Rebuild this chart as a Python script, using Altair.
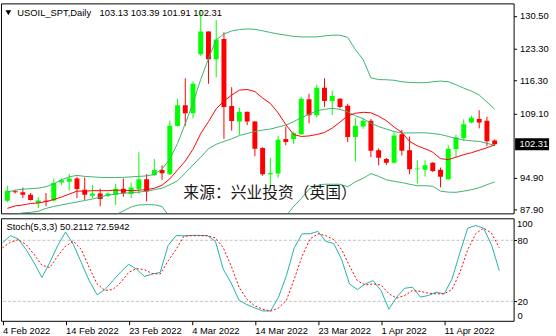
import altair as alt
import pandas as pd

# ---------------- data ----------------
idx = list(range(64))

opens = [89.9, 92.0, 91.75, 91.2, 89.4, 89.9, 89.95, 93.9, 94.1, 94.8,
         92.35, 91.0, 91.5, 91.0, 91.2, 92.55, 91.4, 92.5, 94.65, 95.5,
         96.65, 95.75, 106.35, 110.9, 109.1, 122.1, 127.1, 121.0, 125.45, 110.7,
         107.3, 109.45, 107.3, 101.5, 95.75, 95.9, 103.45, 103.45, 104.5, 112.2,
         108.7, 114.7, 111.8, 112.3, 110.75, 103.9, 106.2, 107.5, 101.0, 99.1,
         98.25, 104.5, 101.0, 96.85, 96.7, 98.25, 96.7, 94.65, 101.3, 103.7,
         107.1, 107.85, 107.5, 103.13]
highs = [93.2, 92.3, 92.8, 91.6, 90.7, 91.6, 94.8, 94.8, 95.8, 95.2,
         95.0, 93.4, 92.55, 91.75, 93.6, 94.8, 93.9, 100.55, 95.75, 99.1,
         97.7, 107.5, 112.3, 116.8, 116.1, 131.8, 127.1, 129.6, 126.9, 114.85,
         110.3, 109.45, 107.4, 101.65, 99.3, 104.2, 106.2, 105.1, 112.7, 113.4,
         115.4, 116.8, 114.1, 112.4, 111.2, 108.0, 108.0, 107.85, 101.4, 99.3,
         105.1, 105.5, 104.0, 98.8, 98.8, 98.4, 97.2, 102.1, 104.4, 107.8,
         108.6, 109.8, 108.35, 103.39]
lows = [89.6, 91.5, 90.5, 89.95, 88.3, 88.7, 89.7, 93.4, 92.1, 90.5,
        90.1, 90.5, 88.7, 90.7, 89.0, 90.8, 90.5, 91.4, 89.8, 95.4,
        94.5, 95.6, 106.2, 106.35, 108.0, 121.7, 115.6, 117.0, 103.5, 105.3,
        104.4, 106.55, 99.7, 95.4, 92.85, 95.0, 102.1, 102.4, 104.4, 106.9,
        108.2, 110.5, 108.7, 110.2, 102.8, 98.5, 105.7, 99.5, 97.7, 97.75,
        98.1, 99.85, 95.75, 93.7, 95.2, 96.2, 92.85, 94.5, 99.5, 103.0,
        106.9, 105.8, 101.9, 101.91]
closes = [92.1, 91.8, 91.2, 90.1, 89.95, 89.7, 93.8, 94.4, 94.8, 92.5,
          91.2, 91.5, 90.3, 91.5, 92.55, 91.55, 92.8, 94.65, 91.95, 96.65,
          95.95, 106.4, 110.9, 109.1, 115.6, 127.1, 121.0, 125.3, 110.5, 107.4,
          109.45, 107.3, 101.35, 95.75, 96.0, 103.3, 102.8, 104.75, 112.3, 108.7,
          114.7, 111.8, 112.9, 110.5, 103.9, 106.4, 107.5, 100.9, 99.35, 98.25,
          104.25, 100.9, 96.8, 97.0, 97.7, 96.45, 95.2, 101.35, 103.8, 106.7,
          108.15, 107.1, 102.95, 102.31]

bb_upper = [91.80, 92.23, 92.45, 92.56, 92.67, 92.99, 93.64, 94.51, 95.15, 95.48,
            95.26, 95.15, 95.05, 95.00, 95.00, 95.05, 95.15, 95.26, 95.37, 95.70,
            96.89, 99.05, 102.51, 106.84, 111.39, 116.58, 121.13, 125.24, 126.54, 127.19,
            127.51, 127.62, 127.56, 127.23, 126.86, 126.54, 126.28, 126.00, 125.89, 125.89,
            125.89, 126.11, 126.26, 126.26, 125.78, 123.08, 120.91, 116.91, 116.52, 116.48,
            116.37, 116.04, 115.87, 115.83, 115.83, 116.04, 116.19, 116.04, 115.39, 114.64,
            113.99, 113.12, 111.60, 110.02]
bb_middle = [86.50, 86.93, 87.25, 87.36, 87.58, 88.23, 88.66, 88.99, 89.31, 89.64,
             89.96, 90.29, 90.72, 91.15, 91.37, 91.58, 91.69, 91.80, 92.02, 92.34,
             92.67, 93.42, 94.29, 96.02, 97.75, 99.48, 101.32, 102.30, 102.95, 103.49,
             104.25, 104.68, 105.11, 105.44, 105.65, 106.09, 106.52, 107.28, 108.14, 108.90,
             109.66, 109.98, 110.20, 109.98, 109.44, 108.57, 107.93, 106.95, 106.19, 105.65,
             105.11, 104.79, 104.79, 104.83, 104.83, 104.68, 104.46, 104.03, 103.60, 103.27,
             103.06, 102.95, 102.51, 102.08]
bb_lower = [None] * 14 + [86.82, 87.69, 88.55, 88.99, 89.05, 89.03, 88.66, 86.28] + [None] * 14 + \
           [86.50, 88.66, 90.39, 92.45, 93.21, 93.53, 93.53, 93.53, 92.99, 94.07,
            94.83, 95.87, 95.26, 94.51, 94.18, 93.92, 93.53, 93.21, 93.21, 93.10,
            92.02, 91.80, 91.76, 92.02, 92.34, 92.77, 93.42, 94.07]
ma_red = [88.23, 88.77, 88.99, 89.31, 89.42, 89.74, 90.18, 90.72, 91.37, 92.02,
          92.02, 92.12, 92.12, 92.12, 92.23, 92.23, 92.12, 92.23, 92.34, 92.67,
          93.32, 94.72, 96.67, 98.62, 101.22, 104.68, 107.28, 110.09, 111.82, 113.12,
          114.20, 114.35, 113.88, 112.47, 111.28, 109.22, 106.63, 104.46, 104.03, 104.14,
          104.46, 104.90, 105.87, 107.17, 108.57, 109.12, 109.33, 109.22, 108.47, 107.49,
          106.09, 104.90, 102.95, 101.97, 101.32, 100.57, 99.16, 98.94, 99.48, 100.03,
          100.46, 101.00, 101.54, 102.19]

stoch_main = [77.4, 84.5, 81.3, 70.9, 58.1, 43.5, 58.1, 74.8, 88.1, 75.8,
              58.1, 40.3, 26.4, 31.6, 40.3, 49.0, 56.4, 51.6, 44.5, 46.8,
              48.4, 74.8, 84.5, 84.5, 84.8, 84.8, 84.5, 79.0, 51.6, 38.1,
              21.0, 16.8, 13.5, 10.6, 10.6, 24.0, 45.2, 72.6, 86.4, 86.4,
              88.7, 79.0, 76.8, 61.3, 37.1, 31.6, 37.1, 40.3, 30.7, 12.3,
              24.2, 32.9, 33.9, 24.2, 25.8, 29.0, 27.4, 41.9, 67.7, 91.9,
              94.5, 91.9, 75.8, 50.2112]
stoch_signal = [72.6, 78.1, 80.6, 75.8, 66.1, 55.5, 53.2, 64.5, 74.2, 79.0,
                70.9, 53.2, 37.1, 30.7, 31.6, 38.7, 48.4, 52.3, 51.0, 47.4,
                46.8, 59.7, 70.9, 83.9, 84.5, 84.5, 84.5, 82.3, 72.6, 54.9,
                33.9, 22.0, 15.5, 12.3, 10.4, 13.5, 21.0, 41.9, 64.5, 81.3,
                86.4, 84.5, 80.6, 70.9, 54.9, 40.3, 36.1, 37.1, 36.1, 27.4,
                23.2, 25.8, 30.7, 29.7, 28.1, 27.4, 27.4, 31.6, 48.4, 70.9,
                86.4, 91.9, 87.1, 72.5942]

date_ticks = [0, 8, 16, 24, 32, 40, 48, 56]
date_labels = ["4 Feb 2022", "14 Feb 2022", "23 Feb 2022", "4 Mar 2022",
               "14 Mar 2022", "23 Mar 2022", "1 Apr 2022", "11 Apr 2022"]
price_ticks = [130.50, 123.30, 116.30, 109.10, 94.90, 87.90]
stoch_levels = [80, 20]
stoch_edge_labels = [100, 0]

symbol = "USOIL_SPT,Daily"
source_text = "来源：兴业投资（英国）"

# ---------------- styling ----------------
FONT = "Liberation Sans"
FS = 9.5
W, H1, H2 = 520, 213, 104
GREEN, RED = "#00ff00", "#ff0000"
BAND = "#3cb371"

xs = alt.Scale(domain=[-0.1875, 64.8125], nice=False, zero=False)
ys = alt.Scale(domain=[87.14, 133.25], nice=False, zero=False)
ss = alt.Scale(domain=[0.9, 101.6], nice=False, zero=False)

yax = alt.Axis(orient="right", values=price_ticks, format=".2f", tickSize=3,
               labelPadding=3, domain=False, grid=False, labelFont=FONT,
               labelFontSize=FS, labelColor="black", tickColor="black", title=None)
sax = alt.Axis(orient="right", values=stoch_levels, format="d", tickSize=3,
               labelPadding=0.5, domain=False, grid=False, labelFont=FONT,
               labelFontSize=FS, labelColor="black", tickColor="black", title=None)
label_expr = "".join(f"datum.value == {t} ? '{l}' : " for t, l in zip(date_ticks, date_labels)) + "''"
xax = alt.Axis(values=date_ticks, labelExpr=label_expr, labelAlign="left",
               labelFlush=False, labelOverlap=False, tickSize=4, labelPadding=1,
               domain=False, grid=False, labelFont=FONT, labelFontSize=FS,
               labelColor="black", tickColor="black", title=None)

candles = pd.DataFrame({"i": idx, "o": opens, "h": highs, "l": lows, "c": closes})
bands = pd.concat([
    pd.DataFrame({"i": idx, "v": bb_upper, "s": "upper"}),
    pd.DataFrame({"i": idx, "v": bb_middle, "s": "middle"}),
    pd.DataFrame({"i": idx, "v": bb_lower, "s": "lower"}),
]).dropna()
ma = pd.DataFrame({"i": idx, "v": ma_red})

col = alt.condition("datum.c >= datum.o", alt.value(GREEN), alt.value(RED))
X = alt.X("i:Q", scale=xs, axis=None)

wicks = alt.Chart(candles).mark_rule(strokeWidth=1, clip=True).encode(
    x=X, y=alt.Y("l:Q", scale=ys, axis=yax), y2="h:Q", color=col)
bodies = alt.Chart(candles).mark_bar(width=5, clip=True).encode(
    x=X, y=alt.Y("o:Q", scale=ys, axis=yax), y2="c:Q", color=col)
band_lines = alt.Chart(bands).mark_line(strokeWidth=1, color=BAND, clip=True).encode(
    x=X, y=alt.Y("v:Q", scale=ys, axis=yax), detail="s:N")
ma_line = alt.Chart(ma).mark_line(strokeWidth=1, color=RED, clip=True).encode(
    x=X, y=alt.Y("v:Q", scale=ys, axis=yax))

hdr = pd.DataFrame({"t": [symbol],
                    "q": [f"{opens[-1]:.2f} {highs[-1]:.2f} {lows[-1]:.2f} {closes[-1]:.2f}"]})
tri = alt.Chart(hdr).mark_point(shape="triangle-down", filled=True, size=32,
                                color="black", opacity=1).encode(
    x=alt.value(7.5), y=alt.value(9.5))
hdr1 = alt.Chart(hdr).mark_text(align="left", baseline="middle", font=FONT,
                                fontSize=FS, color="black").encode(
    x=alt.value(16.5), y=alt.value(9.5), text="t:N")
hdr2 = alt.Chart(hdr).mark_text(align="left", baseline="middle", font=FONT,
                                fontSize=FS, color="black").encode(
    x=alt.value(100), y=alt.value(9.5), text="q:N")
wm = alt.Chart(pd.DataFrame({"t": [source_text]})).mark_text(
    align="left", baseline="middle", font="Noto Sans CJK SC", fontSize=16,
    color="#1a1a1a").encode(x=alt.value(185), y=alt.value(192.5), text="t:N")

last = pd.DataFrame({"p": [closes[-1]], "t": [f"{closes[-1]:.2f}"]})
box = alt.Chart(last).mark_rule(strokeWidth=12, color="black", strokeCap="butt").encode(
    x=alt.value(521.5), x2=alt.value(556), y=alt.Y("p:Q", scale=ys, axis=yax))
box_t = alt.Chart(last).mark_text(align="left", baseline="middle", font=FONT,
                                  fontSize=FS, color="white").encode(
    x=alt.value(526), y=alt.Y("p:Q", scale=ys, axis=yax), text="t:N")

main = alt.layer(wicks, bodies, band_lines, ma_line, tri, hdr1, hdr2, wm, box, box_t).properties(
    width=W, height=H1)

# ---------------- stochastic ----------------
sdf = pd.DataFrame({"i": idx, "m": stoch_main, "g": stoch_signal})
SX = alt.X("i:Q", scale=xs, axis=xax)
lv = alt.Chart(pd.DataFrame({"lv": stoch_levels})).mark_rule(
    color="#c0c0c0", strokeDash=[3, 2], strokeWidth=1).encode(
    y=alt.Y("lv:Q", scale=ss, axis=sax))
mline = alt.Chart(sdf).mark_line(color="#20b2aa", strokeWidth=1, clip=True).encode(
    x=SX, y=alt.Y("m:Q", scale=ss, axis=sax))
gline = alt.Chart(sdf).mark_line(color=RED, strokeWidth=1, strokeDash=[2, 2], clip=True).encode(
    x=SX, y=alt.Y("g:Q", scale=ss, axis=sax))
st_lab = alt.Chart(pd.DataFrame({"t": [f"Stoch(5,3,3) {stoch_main[-1]:.4f} {stoch_signal[-1]:.4f}"]})).mark_text(
    align="left", baseline="middle", font=FONT, fontSize=FS, color="black").encode(
    x=alt.value(5.5), y=alt.value(9), text="t:N")
edge = pd.DataFrame({"v": stoch_edge_labels, "t": [str(v) for v in stoch_edge_labels]})
top_lab = alt.Chart(edge[edge.v == 100]).mark_text(
    align="left", baseline="top", dy=-1, font=FONT, fontSize=FS, color="black").encode(
    x=alt.value(523.5), y=alt.Y("v:Q", scale=ss, axis=sax), text="t:N")
bot_lab = alt.Chart(edge[edge.v == 0]).mark_text(
    align="left", baseline="alphabetic", dy=-3, font=FONT, fontSize=FS, color="black").encode(
    x=alt.value(524), y=alt.Y("v:Q", scale=ss, axis=sax), text="t:N")

stoch = alt.layer(lv, mline, gline, st_lab, top_lab, bot_lab).properties(width=W, height=H2)

chart = alt.vconcat(main, stoch, spacing=2).properties(
    padding=0, background="white"
).configure_view(stroke="black", strokeWidth=1)

chart.save("out.html", embed_options={"renderer": "svg", "actions": False})
